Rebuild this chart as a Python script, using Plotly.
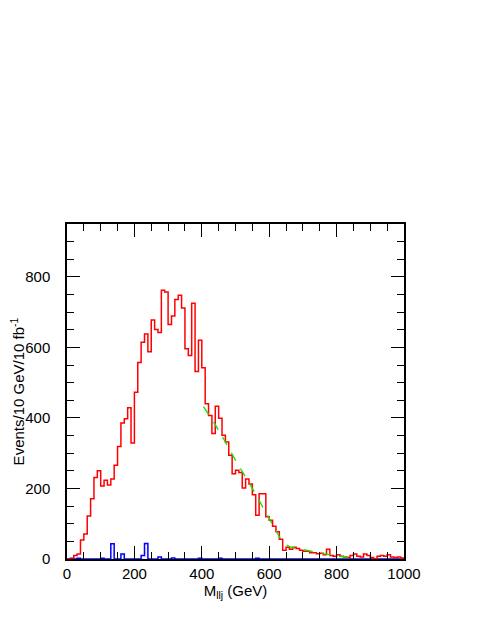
import numpy as np
import plotly.graph_objects as go

# 10 GeV bins from 0 to 1000 GeV
bin_edges = np.arange(0, 1010, 10)

# signal + background (red), events per bin
red_counts = [0, 0, 10, 14, 54, 71, 122, 171, 231, 250,
              207, 223, 210, 227, 266, 319, 386, 398, 429, 329,
              473, 557, 615, 638, 588, 678, 651, 642, 762, 757,
              665, 689, 736, 748, 712, 596, 577, 725, 532, 620,
              542, 440, 407, 356, 433, 399, 351, 332, 294, 242,
              252, 245, 201, 227, 213, 182, 124, 185, 185, 120,
              110, 93, 77, 56, 25, 33, 28, 33, 30, 25,
              22, 22, 18, 18, 15, 16, 12, 28, 10, 8,
              12, 8, 6, 4, 10, 14, 8, 6, 14, 10,
              4, 0, 8, 10, 8, 12, 6, 4, 6, 3]

# second sample (blue, hatched)
blue_counts = [0, 2, 0, 2, 0, 0, 0, 0, 0, 0,
               2, 0, 0, 43, 0, 0, 14, 0, 0, 0,
               0, 0, 10, 44, 0, 0, 0, 6, 0, 0,
               0, 3, 0, 0, 0, 0, 0, 0, 0, 2,
               0, 0, 0, 0, 0, 2, 0, 0, 0, 0,
               0, 0, 0, 0, 0, 0, 2, 0, 0, 0,
               0, 0, 0, 0, 0, 0, 0, 0, 0, 0,
               0, 0, 0, 0, 0, 0, 0, 0, 0, 0,
               0, 0, 0, 0, 0, 0, 0, 0, 0, 0,
               0, 0, 0, 0, 0, 0, 0, 0, 0, 0]

# fitted tail (green dashed)
fit_mass = [405, 450, 500, 550, 600, 640, 660, 700, 750, 800, 850]
fit_events = [432, 365, 280, 200, 115, 50, 35, 27, 17, 9, 3]

font = "Liberation Sans, Arial, Helvetica, sans-serif"


def step_xy(counts):
    x = list(bin_edges)
    y = list(counts) + [counts[-1]]
    return x, y


fig = go.Figure()

centers = bin_edges[:-1] + 5
fig.add_trace(go.Bar(x=centers, y=blue_counts, width=10,
                     marker=dict(color="white", line=dict(width=0),
                                 pattern=dict(shape="x", fgcolor="#7a7aff",
                                              bgcolor="white", size=3, solidity=0.3)),
                     showlegend=False))

bx, by = step_xy(blue_counts)
fig.add_trace(go.Scatter(x=bx, y=by, mode="lines", line_shape="hv",
                         line=dict(color="#0000ff", width=1.5), showlegend=False))

rx, ry = step_xy(red_counts)
fig.add_trace(go.Scatter(x=rx, y=ry, mode="lines", line_shape="hv",
                         line=dict(color="#ff0000", width=1.5), showlegend=False))

fig.add_trace(go.Scatter(x=fit_mass, y=fit_events, mode="lines", line_shape="spline",
                         line=dict(color="#22dd00", width=1.4, dash="dash"),
                         showlegend=False))

axis_common = dict(
    showline=True, linecolor="black", linewidth=1.5, mirror="allticks",
    ticks="inside", ticklen=13, tickwidth=1.2, tickcolor="black",
    showgrid=False, zeroline=False, automargin=False,
    tickfont=dict(family=font, size=15, color="black"),
    minor=dict(ticks="inside", ticklen=7, tickwidth=1, tickcolor="black", dtick=50),
)

fig.update_xaxes(range=[0, 1000], dtick=200, tick0=0, ticklabelstandoff=0,
                 title=dict(text="M<sub>llj</sub> (GeV)", standoff=4,
                            font=dict(family=font, size=15, color="black")),
                 **axis_common)
fig.update_yaxes(range=[0, 950], dtick=200, tick0=0, ticklabelstandoff=12,
                 title=dict(text="Events/10 GeV/10 fb<sup>-1</sup>", standoff=4,
                            font=dict(family=font, size=15, color="black")),
                 **axis_common)

# page body adds an 8 px offset, so margins are shifted to compensate
fig.update_layout(width=485, height=627,
                  margin=dict(l=59, r=89, t=216, b=76),
                  plot_bgcolor="white", paper_bgcolor="white",
                  bargap=0, barmode="overlay")

fig.write_html("out.html")
